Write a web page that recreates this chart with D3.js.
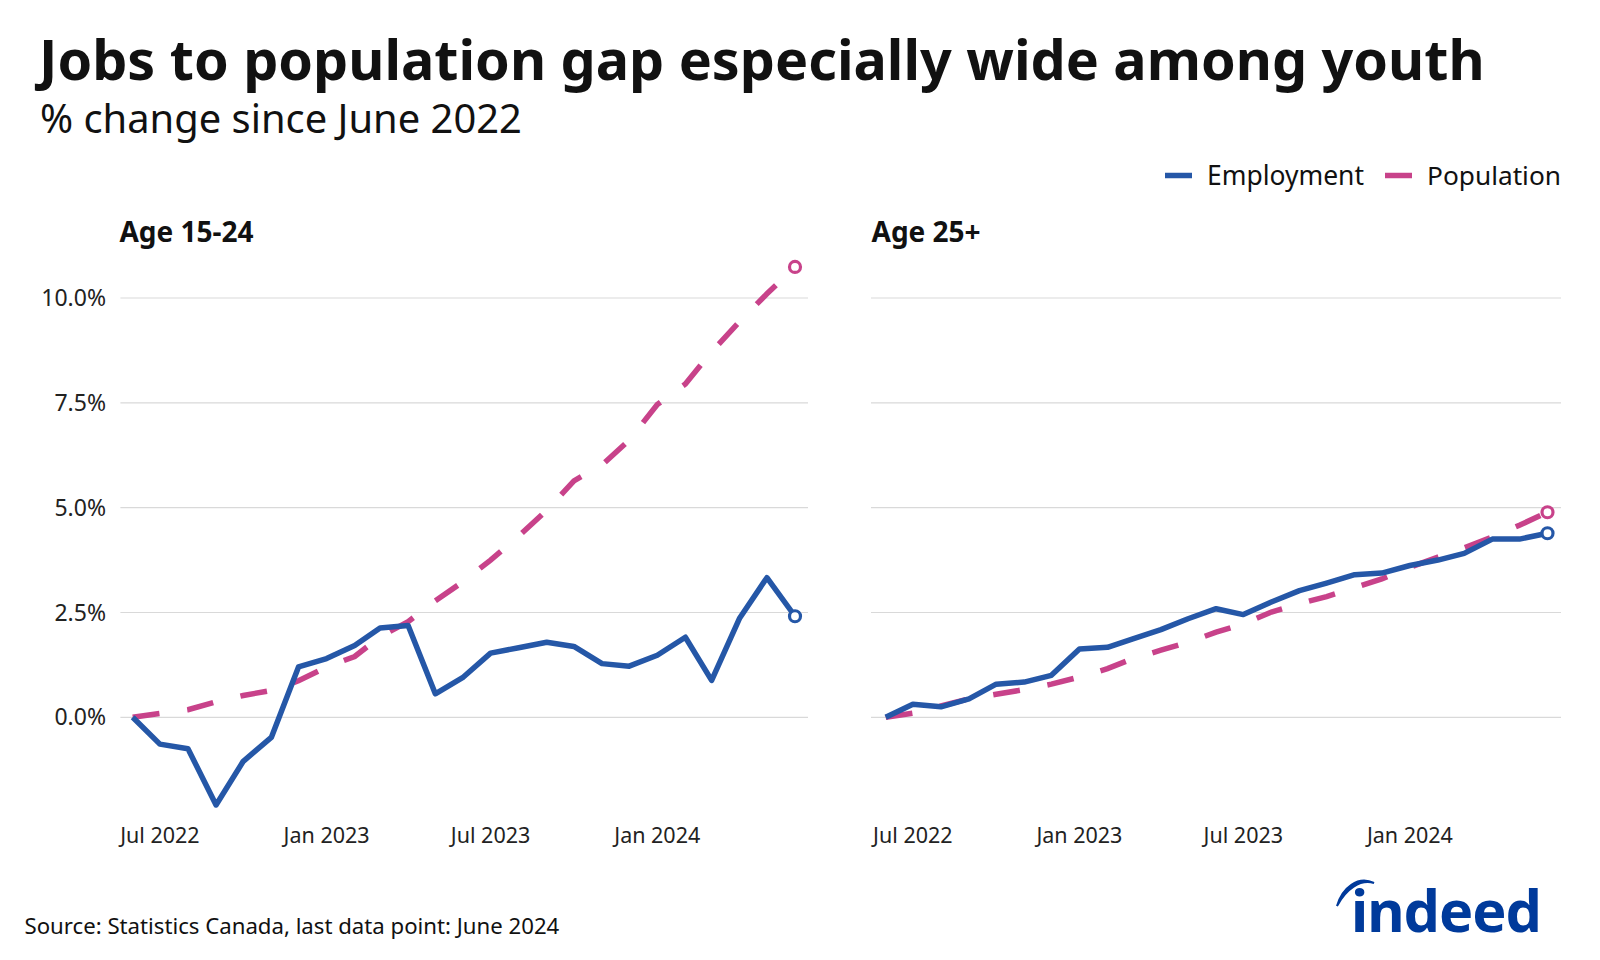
<!DOCTYPE html>
<html><head><meta charset="utf-8">
<script src="https://cdn.jsdelivr.net/npm/d3@7"></script>
<style>
html,body{margin:0;padding:0;background:#fff;}
svg{display:block;font-family:"Noto Sans","Open Sans",sans-serif;}
</style></head>
<body><svg id="chart" width="1600" height="960"></svg>
<script>
const months = ["2022-06","2022-07","2022-08","2022-09","2022-10","2022-11","2022-12",
  "2023-01","2023-02","2023-03","2023-04","2023-05","2023-06","2023-07","2023-08","2023-09",
  "2023-10","2023-11","2023-12","2024-01","2024-02","2024-03","2024-04","2024-05","2024-06"];
const youthEmployment = [0, -0.64, -0.75, -2.09, -1.05, -0.48, 1.20, 1.40, 1.71, 2.13, 2.19, 0.56,
  0.96, 1.53, 1.66, 1.79, 1.69, 1.28, 1.22, 1.48, 1.91, 0.88, 2.37, 3.33, 2.41];
const youthPopulation = [0, 0.09, 0.18, 0.37, 0.52, 0.64, 0.87, 1.20, 1.45, 1.92, 2.28, 2.78,
  3.24, 3.75, 4.32, 4.94, 5.64, 6.02, 6.61, 7.46, 7.95, 8.72, 9.44, 10.10, 10.74];
const adultEmployment = [0, 0.31, 0.25, 0.44, 0.79, 0.84, 1.00, 1.63, 1.67, 1.87, 2.09, 2.35,
  2.59, 2.45, 2.75, 3.02, 3.20, 3.40, 3.44, 3.62, 3.75, 3.91, 4.25, 4.25, 4.39];
const adultPopulation = [0, 0.10, 0.27, 0.44, 0.55, 0.66, 0.79, 0.96, 1.16, 1.40, 1.60, 1.79,
  2.03, 2.23, 2.51, 2.71, 2.88, 3.09, 3.30, 3.58, 3.82, 4.04, 4.30, 4.58, 4.89];
const yTicks = [0, 2.5, 5, 7.5, 10];
const xTickMonths = ["2022-07","2023-01","2023-07","2024-01"];
const panelTitles = ["Age 15-24", "Age 25+"];
const seriesNames = ["Employment", "Population"];

const BLUE = "#2557a7", PINK = "#c8428a";
const parse = d3.timeParse("%Y-%m");
const dates = months.map(parse);
const svg = d3.select("#chart");

function fitText(sel, target) {
  const w = sel.node().getComputedTextLength();
  const fs = parseFloat(sel.attr("font-size"));
  sel.attr("font-size", fs * target / w);
}

// Title / subtitle
const title = svg.append("text").attr("x", 39).attr("y", 80)
  .attr("font-size", 57).attr("font-weight", 700).attr("fill", "#111")
  .text("Jobs to population gap especially wide among youth");
fitText(title, 1446);
const sub = svg.append("text").attr("x", 40).attr("y", 133)
  .attr("font-size", 37).attr("fill", "#111").text("% change since June 2022");
fitText(sub, 482);

// Legend
const legend = [
  {name: seriesNames[0], color: BLUE, x1: 1165, tx: 1207, w: 157},
  {name: seriesNames[1], color: PINK, x1: 1385, tx: 1427, w: 134}
];
legend.forEach(l => {
  svg.append("line").attr("x1", l.x1).attr("x2", l.x1 + 27).attr("y1", 175.5).attr("y2", 175.5)
    .attr("stroke", l.color).attr("stroke-width", 5.5);
  const t = svg.append("text").attr("x", l.tx).attr("y", 184.5).attr("font-size", 25)
    .attr("fill", "#111").text(l.name);
  fitText(t, l.w);
});

const y = d3.scaleLinear().domain([0, 10]).range([717.3, 298]);

const panels = [
  {title: panelTitles[0], emp: youthEmployment, pop: youthPopulation, range: [132.7, 795], grid: [120.4, 808], tx: 119.4, showY: true},
  {title: panelTitles[1], emp: adultEmployment, pop: adultPopulation, range: [885.7, 1547.5], grid: [871, 1561], tx: 871.5, showY: false}
];

panels.forEach(p => {
  const g = svg.append("g");
  const x = d3.scaleTime().domain([dates[0], dates[dates.length - 1]]).range(p.range);
  g.append("text").attr("x", p.tx).attr("y", 242).attr("font-size", 28)
    .attr("font-weight", 700).attr("fill", "#111").text(p.title);
  g.selectAll("line.grid").data(yTicks).join("line").attr("class", "grid")
    .attr("x1", p.grid[0]).attr("x2", p.grid[1])
    .attr("y1", d => y(d)).attr("y2", d => y(d))
    .attr("stroke", "#d9d9d9").attr("stroke-width", 1.2);
  if (p.showY) {
    g.selectAll("text.ylab").data(yTicks).join("text").attr("class", "ylab")
      .attr("x", 106).attr("y", d => y(d)).attr("dy", "0.35em")
      .attr("text-anchor", "end").attr("font-size", 23).attr("fill", "#222")
      .text(d => d3.format(".1f")(d) + "%");
  }
  g.selectAll("text.xlab").data(xTickMonths.map(parse)).join("text").attr("class", "xlab")
    .attr("x", d => x(d)).attr("y", 843).attr("text-anchor", "middle")
    .attr("font-size", 21.5).attr("fill", "#222")
    .text(d3.timeFormat("%b %Y"));
  const line = d3.line().x((d, i) => x(dates[i])).y(d => y(d));
  g.append("path").datum(p.pop).attr("d", line).attr("fill", "none")
    .attr("stroke", PINK).attr("stroke-width", 5.5).attr("stroke-dasharray", "27,28");
  g.append("path").datum(p.emp).attr("d", line).attr("fill", "none")
    .attr("stroke", BLUE).attr("stroke-width", 5.5).attr("stroke-linejoin", "round");
  const last = dates.length - 1;
  [[p.pop, PINK], [p.emp, BLUE]].forEach(([s, c]) => {
    g.append("circle").attr("cx", x(dates[last])).attr("cy", y(s[last])).attr("r", 5.5)
      .attr("fill", "#fff").attr("stroke", c).attr("stroke-width", 3.2);
  });
});

// Source
const src = svg.append("text").attr("x", 24.5).attr("y", 934).attr("font-size", 21)
  .attr("fill", "#111").text("Source: Statistics Canada, last data point: June 2024");
fitText(src, 535);

// Indeed logo
const logo = svg.append("g");
const lt = logo.append("text").attr("x", 1351).attr("y", 932).attr("font-size", 58)
  .attr("font-weight", 700).attr("fill", "#003a9b").attr("letter-spacing", -1).text("indeed");
fitText(lt, 190);
logo.append("path").attr("d", "M1337,906 C1342,888 1358,875 1374,883 C1360,879 1346,889 1337,906 Z")
  .attr("fill", "#003a9b").attr("stroke", "#003a9b").attr("stroke-width", 2);
</script></body></html>
